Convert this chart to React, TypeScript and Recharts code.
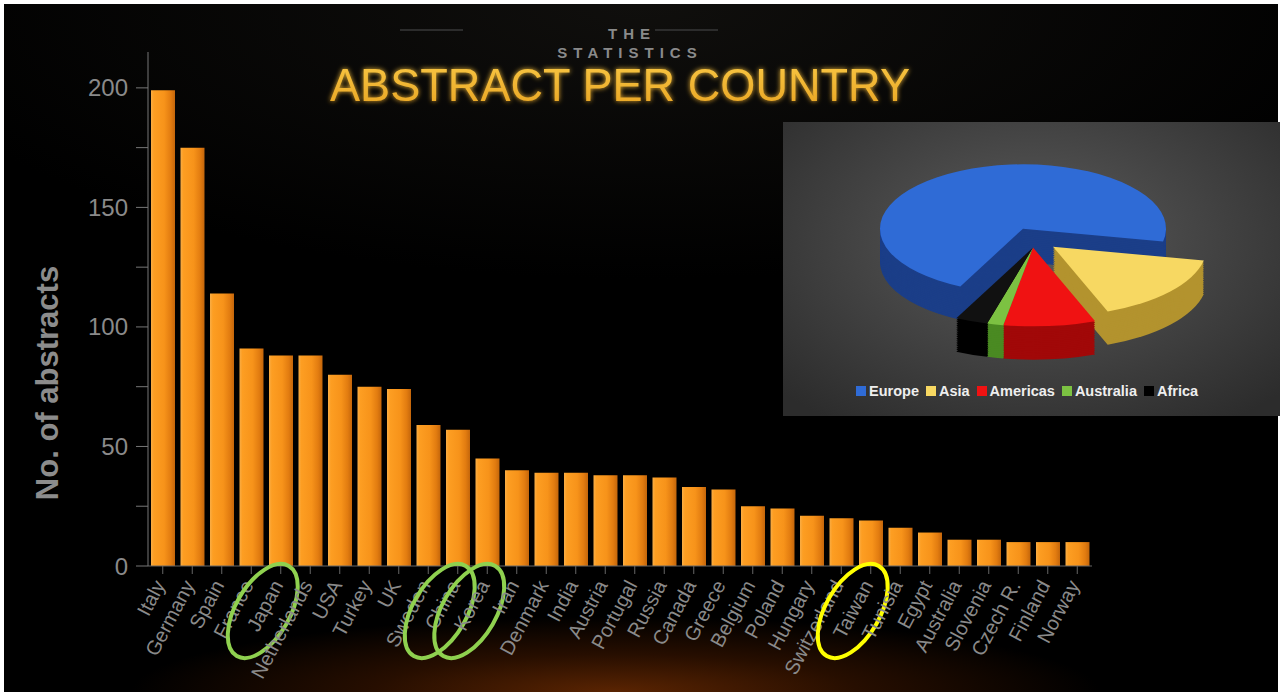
import React from "react";
import { BarChart, Bar, XAxis, YAxis, PieChart, Pie, Cell } from "recharts";

const countries = [
  "Italy", "Germany", "Spain", "France", "Japan", "Netherlands", "USA", "Turkey",
  "UK", "Sweden", "China", "Korea", "Iran", "Denmark", "India", "Austria",
  "Portugal", "Russia", "Canada", "Greece", "Belgium", "Poland", "Hungary",
  "Switzerland", "Taiwan", "Tunisia", "Egypt", "Australia", "Slovenia",
  "Czech R.", "Finland", "Norway",
];
const abstracts = [
  199, 175, 114, 91, 88, 88, 80, 75, 74, 59, 57, 45, 40, 39, 39, 38, 38, 37, 33,
  32, 25, 24, 21, 20, 19, 16, 14, 11, 11, 10, 10, 10,
];
const yTicks = [0, 25, 50, 75, 100, 125, 150, 175, 200];
const circledGreen = ["Japan", "China", "Korea"];
const circledYellow = ["Taiwan"];

const regions = ["Europe", "Asia", "Americas", "Australia", "Africa"];
const regionShare = [71, 16, 8.5, 1.5, 3];
const regionTop = ["#2f6bd6", "#f7d862", "#f01212", "#7cc242", "#111111"];
const regionSide = ["#1b3e88", "#b3932e", "#a10808", "#4a8a22", "#000000"];

const FONT = "'Liberation Sans', Arial, sans-serif";
const GRAY = "#8a8a8a";

const CountryTick = (props: any) => {
  const { x, y, payload } = props;
  const name = payload.value;
  const ring = circledGreen.includes(name)
    ? "#8fd14f"
    : circledYellow.includes(name)
    ? "#ffff00"
    : null;
  return (
    <g>
      <g transform={`translate(${x + 3}, ${y + 7}) rotate(-62)`}>
        <text x={0} y={0} textAnchor="end" fill={GRAY} fontSize={20} fontFamily={FONT}>
          {name}
        </text>
      </g>
      {ring && (
        <ellipse
          cx={0}
          cy={0}
          rx={52}
          ry={27}
          transform={`translate(${x - 18}, ${y + 33}) rotate(-60)`}
          fill="none"
          stroke={ring}
          strokeWidth={4}
        />
      )}
    </g>
  );
};

// 3D-ish exploded pie: stacked layers squashed vertically
const PIE_SCALE = 0.45;
const DEPTH = 74;
const LAYERS = 18;
const pieGroups = [
  { members: ["Europe"], dx: 0, dy: 0, r: 143 },
  { members: ["Asia"], dx: 30, dy: 40, r: 154 },
  { members: ["Americas", "Australia", "Africa"], dx: 10, dy: 42, r: 175 },
];

function RegionPie() {
  const pieData = regions.map((r, i) => ({ name: r, value: regionShare[i] }));
  const cx = 235;
  const cy = 232;
  const steps = Array.from({ length: LAYERS + 1 }, (_, k) => LAYERS - k);
  return (
    <div
      style={{
        position: "absolute",
        left: 783,
        top: 122,
        width: 497,
        height: 294,
        overflow: "hidden",
        background:
          "radial-gradient(ellipse 70% 75% at 50% 40%, #5c5c5c 0%, #464646 45%, #2c2c2c 100%)",
      }}
    >
      <div style={{ transform: `scaleY(${PIE_SCALE})`, transformOrigin: "0 0" }}>
        <PieChart width={497} height={600}>
          {steps.map((k) =>
            pieGroups.map((g, gi) => (
              <Pie
                key={`l${k}-${gi}`}
                data={pieData}
                dataKey="value"
                cx={cx + g.dx}
                cy={cy + g.dy + (DEPTH * k) / LAYERS}
                outerRadius={g.r}
                startAngle={244}
                endAngle={-116}
                stroke="none"
                isAnimationActive={false}
              >
                {pieData.map((d, i) => (
                  <Cell
                    key={d.name}
                    fill={
                      g.members.includes(d.name)
                        ? k === 0
                          ? regionTop[i]
                          : regionSide[i]
                        : "none"
                    }
                  />
                ))}
              </Pie>
            ))
          )}
        </PieChart>
      </div>
      <div
        style={{
          position: "absolute",
          left: 73,
          top: 261,
          display: "flex",
          alignItems: "center",
          fontFamily: FONT,
          fontWeight: 700,
          fontSize: 14.5,
          color: "#eeeeee",
          whiteSpace: "nowrap",
        }}
      >
        {regions.map((r, i) => (
          <span key={r} style={{ display: "flex", alignItems: "center", marginRight: 7 }}>
            <span
              style={{
                width: 10,
                height: 10,
                background: i === 4 ? "#000" : regionTop[i],
                display: "inline-block",
                marginRight: 3,
              }}
            />
            {r}
          </span>
        ))}
      </div>
    </div>
  );
}

export default function App() {
  const data = countries.map((c, i) => ({ country: c, abstracts: abstracts[i] }));
  return (
    <div
      style={{
        position: "absolute",
        left: 0,
        top: 0,
        width: 1282,
        height: 696,
        background: "#ffffff",
        overflow: "hidden",
      }}
    >
      <div
        style={{
          position: "absolute",
          left: 4,
          top: 4,
          width: 1274,
          height: 688,
          background:
            "radial-gradient(ellipse 38% 11% at 48% 100%, rgba(95,38,2,0.95) 0%, rgba(55,20,0,0.7) 50%, rgba(0,0,0,0) 100%), radial-gradient(ellipse 60% 40% at 50% 0%, #100f0d 0%, #000 100%)",
        }}
      />
      <div style={{ position: "absolute", left: 0, top: 0 }}>
        <BarChart
          width={1282}
          height={696}
          data={data}
          margin={{ top: 52, right: 190, bottom: 0, left: 48 }}
        >
          <defs>
            <linearGradient id="barFill" x1="0" y1="0" x2="1" y2="0">
              <stop offset="0%" stopColor="#f9ad45" />
              <stop offset="12%" stopColor="#fd9e22" />
              <stop offset="55%" stopColor="#f7931a" />
              <stop offset="82%" stopColor="#e27c10" />
              <stop offset="100%" stopColor="#c4660b" />
            </linearGradient>
          </defs>
          <XAxis
            dataKey="country"
            interval={0}
            height={130}
            tick={<CountryTick />}
            tickSize={8}
            tickMargin={4}
            axisLine={{ stroke: "#666" }}
            tickLine={{ stroke: "#666" }}
          />
          <YAxis
            width={100}
            domain={[0, 215]}
            ticks={yTicks}
            interval={0}
            tickFormatter={(v: number) => (v % 50 === 0 ? String(v) : "")}
            tickSize={12}
            tickMargin={8}
            axisLine={{ stroke: "#777" }}
            tickLine={{ stroke: "#777" }}
            tick={{ fill: GRAY, fontSize: 24, fontFamily: FONT }}
          />
          <Bar dataKey="abstracts" fill="url(#barFill)" barSize={24} isAnimationActive={false} />
        </BarChart>
      </div>
      <svg
        width={1282}
        height={696}
        style={{ position: "absolute", left: 0, top: 0, pointerEvents: "none" }}
      >
        <defs>
          <linearGradient id="titleFill" x1="0" y1="0" x2="0" y2="1">
            <stop offset="0%" stopColor="#f9c844" />
            <stop offset="100%" stopColor="#e8a322" />
          </linearGradient>
          <filter id="glow" x="-5%" y="-30%" width="110%" height="160%">
            <feGaussianBlur stdDeviation="2.5" result="b" />
            <feMerge>
              <feMergeNode in="b" />
              <feMergeNode in="SourceGraphic" />
            </feMerge>
          </filter>
        </defs>
        <line x1={400} y1={30} x2={463} y2={30} stroke="#2c2c2c" strokeWidth={2} />
        <line x1={655} y1={30} x2={718} y2={30} stroke="#2c2c2c" strokeWidth={2} />
        <text
          x={632}
          y={39}
          textAnchor="middle"
          fill={GRAY}
          fontSize={15}
          fontWeight={700}
          fontFamily={FONT}
          letterSpacing={6}
        >
          THE
        </text>
        <text
          x={630}
          y={58}
          textAnchor="middle"
          fill={GRAY}
          fontSize={15}
          fontWeight={700}
          fontFamily={FONT}
          letterSpacing={6}
        >
          STATISTICS
        </text>
        <text
          x={330}
          y={101}
          fill="url(#titleFill)"
          fontSize={46}
          fontFamily={FONT}
          textLength={580}
          lengthAdjust="spacingAndGlyphs"
          filter="url(#glow)"
        >
          ABSTRACT PER COUNTRY
        </text>
        <text
          transform="translate(58, 383) rotate(-90)"
          textAnchor="middle"
          fill="#8c8c8c"
          fontSize={31}
          fontWeight={700}
          fontFamily={FONT}
        >
          No. of abstracts
        </text>
      </svg>
      <RegionPie />
    </div>
  );
}
